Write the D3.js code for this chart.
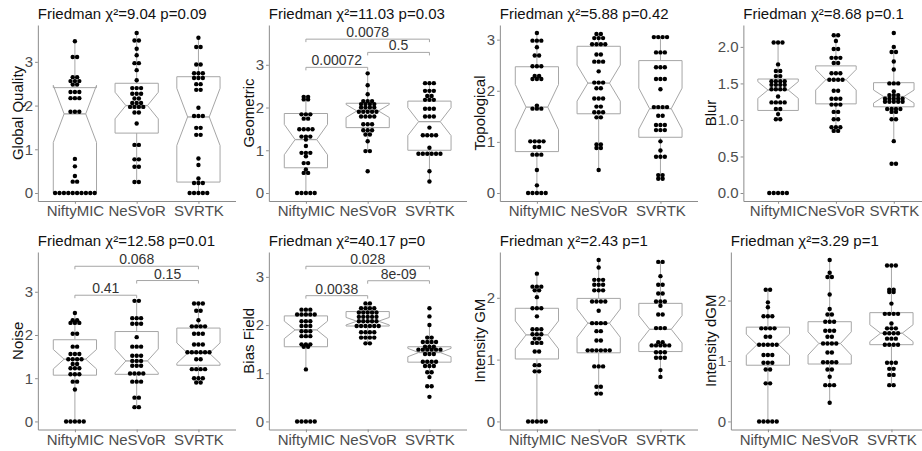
<!DOCTYPE html>
<html>
<head>
<meta charset="utf-8">
<script src="https://cdn.jsdelivr.net/npm/d3@7"></script>
<style>
  body { margin: 0; background: #fff; }
  svg text { font-family: "Liberation Sans", Arial, Helvetica, sans-serif; }
</style>
</head>
<body>
<svg id="chart" width="922" height="451"></svg>
<script>
// Data
var methods = ["NiftyMIC", "NeSVoR", "SVRTK"];
var metrics = ["Global Quality", "Geometric", "Topological", "Blur", "Noise", "Bias Field", "Intensity GM", "Intensity dGM"];
var chiSq = ["9.04", "11.03", "5.88", "8.68", "12.58", "40.17", "2.43", "3.29"];
var pValues = ["0.09", "0.03", "0.42", "0.1", "0.01", "0", "1", "1"];
var yTicks = [[0, 1, 2, 3], [0, 1, 2, 3], [0, 1, 2, 3], [0, 0.5, 1, 1.5, 2], [0, 1, 2, 3], [0, 1, 2, 3], [0, 1, 2], [0, 1, 2]];

// box hinges per method: [q1, median, q3]
var boxGlobal = [[0, 1.81, 2.41], [1.37, 2.0, 2.51], [0.25, 1.74, 2.66]];
var boxGeometric = [[0.59, 1.25, 1.86], [1.53, 1.92, 2.10], [1.0, 1.67, 2.15]];
var boxTopological = [[0.81, 1.68, 2.47], [1.55, 2.15, 2.87], [1.09, 1.65, 2.59]];
var boxBlur = [[1.13, 1.41, 1.56], [1.22, 1.55, 1.74], [1.18, 1.32, 1.51]];
var boxNoise = [[1.07, 1.44, 1.89], [1.09, 1.40, 2.08], [1.30, 1.58, 2.16]];
var boxBias = [[1.55, 1.90, 2.19], [1.98, 2.08, 2.28], [1.23, 1.43, 1.55]];
var boxIntGM = [[1.01, 1.40, 1.83], [1.11, 1.59, 1.99], [1.13, 1.49, 1.91]];
var boxIntDGM = [[0.93, 1.27, 1.56], [0.95, 1.29, 1.65], [1.27, 1.46, 1.80]];

// scores per method as [value, number of subjects]
var dotsGlobal = [
  [[3.47,1],[3.11,2],[2.65,2],[2.56,3],[2.48,2],[2.31,3],[2.17,3],[1.86,3],[0.78,1],[0.61,1],[0.39,1],[0.26,2],[0,10]],
  [[3.66,1],[3.49,2],[3.30,1],[3.15,1],[2.97,2],[2.81,1],[2.58,1],[2.40,3],[2.27,3],[2.16,2],[2.06,3],[1.97,4],[1.84,2],[1.59,1],[1.10,2],[0.77,2],[0.60,2],[0.25,2]],
  [[3.55,1],[3.34,2],[2.94,2],[2.74,3],[2.63,3],[2.49,2],[2.36,2],[1.95,1],[1.76,3],[1.49,2],[1.33,2],[0.79,1],[0.64,1],[0.33,1],[0.23,3],[0,5]]
];
var dotsGeometric = [
  [[2.25,2],[2.19,2],[1.84,3],[1.74,2],[1.49,4],[1.32,3],[1.25,1],[1.10,1],[0.94,3],[0.86,1],[0.70,2],[0.55,1],[0.47,2],[0,5]],
  [[2.80,1],[2.52,1],[2.31,1],[2.15,3],[2.08,4],[2.00,4],[1.90,5],[1.79,4],[1.61,3],[1.47,3],[1.37,2],[1.21,1],[0.98,2],[0.51,1]],
  [[2.57,3],[2.39,3],[2.27,2],[2.18,3],[1.97,3],[1.79,3],[1.53,1],[1.35,4],[1.06,1],[0.92,6],[0.51,1],[0.27,1]]
];
var dotsTopological = [
  [[3.13,1],[2.98,3],[2.85,1],[2.69,2],[2.48,3],[2.29,2],[2.23,3],[1.71,1],[1.65,3],[1.01,4],[0.90,2],[0.75,3],[0.45,1],[0.15,1],[0,5]],
  [[3.11,2],[3.03,3],[2.91,4],[2.71,2],[2.57,3],[2.38,1],[2.16,3],[2.05,2],[1.85,3],[1.69,2],[1.58,3],[1.48,2],[0.95,2],[0.88,2],[0.45,1]],
  [[3.05,4],[2.75,3],[2.46,3],[2.23,3],[2.03,1],[1.68,4],[1.51,2],[1.33,3],[1.23,3],[1.01,1],[0.83,1],[0.71,3],[0.35,2],[0.28,2]]
];
var dotsBlur = [
  [[2.06,3],[1.76,1],[1.67,2],[1.60,2],[1.53,4],[1.48,4],[1.42,4],[1.32,1],[1.24,4],[1.15,2],[1.08,1],[1.01,2],[0,5]],
  [[2.16,2],[2.08,1],[1.97,2],[1.85,3],[1.78,2],[1.64,3],[1.55,4],[1.40,2],[1.29,3],[1.21,3],[1.11,2],[1.01,2],[0.90,3],[0.85,2]],
  [[2.19,1],[2.0,1],[1.93,2],[1.80,1],[1.69,1],[1.50,3],[1.39,1],[1.34,3],[1.29,5],[1.25,5],[1.15,4],[1.11,2],[1.01,2],[0.71,1],[0.40,2]]
];
var dotsNoise = [
  [[2.51,1],[2.34,2],[2.28,3],[2.03,2],[1.73,2],[1.56,3],[1.44,4],[1.33,2],[1.23,3],[1.09,3],[0.92,2],[0.74,1],[0,5]],
  [[2.79,2],[2.39,3],[2.26,3],[1.95,1],[1.73,3],[1.52,3],[1.40,3],[1.29,3],[1.11,4],[0.92,3],[0.55,2],[0.33,2]],
  [[2.73,3],[2.56,2],[2.34,1],[2.20,4],[2.03,3],[1.78,3],[1.60,6],[1.44,2],[1.21,4],[1.0,3],[0.90,2]]
];
var dotsBias = [
  [[2.32,3],[2.22,5],[2.08,3],[1.98,3],[1.87,3],[1.77,3],[1.60,3],[1.55,2],[1.08,1],[0,5]],
  [[2.45,2],[2.35,4],[2.26,5],[2.17,5],[2.08,5],[1.98,6],[1.85,4],[1.74,4],[1.62,2]],
  [[2.35,1],[2.18,1],[2.0,1],[1.74,2],[1.65,4],[1.55,3],[1.49,6],[1.40,3],[1.24,4],[1.15,3],[1.02,2],[0.92,1],[0.73,2],[0.51,1]]
];
var dotsIntGM = [
  [[2.39,1],[2.18,3],[2.12,2],[2.01,1],[1.83,3],[1.70,1],[1.49,3],[1.41,3],[1.34,2],[1.27,3],[1.13,2],[0.91,2],[0.81,2],[0,5]],
  [[2.61,1],[2.49,1],[2.29,3],[2.21,3],[2.12,3],[1.94,4],[1.79,1],[1.59,4],[1.46,2],[1.31,2],[1.15,6],[0.89,3],[0.56,2],[0.45,2]],
  [[2.58,2],[2.35,1],[2.21,2],[2.07,2],[1.94,3],[1.87,1],[1.73,2],[1.51,3],[1.28,2],[1.23,5],[1.12,3],[1.03,3],[0.83,1],[0.72,1]]
];
var dotsIntDGM = [
  [[2.18,2],[1.97,1],[1.89,1],[1.74,3],[1.54,4],[1.40,2],[1.27,5],[1.10,3],[0.97,3],[0.86,2],[0.63,2],[0,5]],
  [[2.67,1],[2.46,1],[2.39,2],[2.10,1],[1.86,1],[1.77,2],[1.65,3],[1.50,3],[1.40,2],[1.29,4],[1.14,2],[0.98,4],[0.86,2],[0.74,1],[0.60,3],[0.31,1]],
  [[2.58,3],[2.18,2],[2.14,2],[1.95,1],[1.78,4],[1.62,1],[1.54,3],[1.46,4],[1.37,3],[1.27,4],[0.97,3],[0.87,2],[0.77,2],[0.60,2]]
];

// pairwise comparisons: [group a, group b, bracket height, p label]
var pairsGeometric = [["NiftyMIC", "NeSVoR", 2.94, "0.00072"], ["NeSVoR", "SVRTK", 3.29, "0.5"], ["NiftyMIC", "SVRTK", 3.60, "0.0078"]];
var pairsNoise = [["NiftyMIC", "NeSVoR", 2.92, "0.41"], ["NeSVoR", "SVRTK", 3.26, "0.15"], ["NiftyMIC", "SVRTK", 3.59, "0.068"]];
var pairsBias = [["NiftyMIC", "NeSVoR", 2.61, "0.0038"], ["NeSVoR", "SVRTK", 2.92, "8e-09"], ["NiftyMIC", "SVRTK", 3.22, "0.028"]];

var boxes = [boxGlobal, boxGeometric, boxTopological, boxBlur, boxNoise, boxBias, boxIntGM, boxIntDGM];
var dots = [dotsGlobal, dotsGeometric, dotsTopological, dotsBlur, dotsNoise, dotsBias, dotsIntGM, dotsIntDGM];
var pairs = [[], pairsGeometric, [], [], pairsNoise, pairsBias, [], []];

// Layout
var svg = d3.select("#chart");
var colX = [0, 231, 462, 693];
var rowY = [[25, 201], [252, 429.5]];
var fontSize = 15;
var axisColor = "#8c8c8c", boxColor = "#a6a6a6", tickText = "#4d4d4d";
var dotR = 2.2, dotStep = 4.4;

function expand(g) {
  var out = [];
  g.forEach(function(d) { for (var k = 0; k < d[1]; k++) out.push(d[0]); });
  return out;
}

function textWidth(str) {
  var t = svg.append("text").attr("font-size", fontSize).text(str);
  var w = t.node().getComputedTextLength();
  t.remove();
  return w;
}

metrics.forEach(function(metric, i) {
  var col = i % 4, row = Math.floor(i / 4);
  var x0 = colX[col], top = rowY[row][0], bottom = rowY[row][1];

  var values = dots[i].map(expand);
  var all = d3.merge(values);
  var lo = d3.min(all), hi = d3.max(all);
  if (pairs[i].length) hi = Math.max(hi, d3.max(pairs[i], function(p) { return p[2]; }) * 1.04);
  var pad = (hi - lo) * 0.05;

  var fmt = yTicks[i].some(function(v) { return v % 1 !== 0; }) ? d3.format(".1f") : d3.format("d");
  var labelW = d3.max(yTicks[i], function(v) { return textWidth(fmt(v)); });
  var left = x0 + 29.5 + labelW, right = x0 + 235.5;

  var y = d3.scaleLinear().domain([lo - pad, hi + pad]).range([bottom, top]);
  var x = d3.scalePoint().domain(methods).range([left, right]).padding(0.6);
  var bw = x.step() * 0.7;

  var g = svg.append("g");

  // axes
  var ya = g.append("g").attr("transform", "translate(" + left + ",0)")
      .call(d3.axisLeft(y).tickValues(yTicks[i]).tickFormat(fmt).tickSize(2.75).tickSizeOuter(0).tickPadding(2));
  var xa = g.append("g").attr("transform", "translate(0," + bottom + ")")
      .call(d3.axisBottom(x).tickSize(2.75).tickSizeOuter(0).tickPadding(2));
  [ya, xa].forEach(function(a) {
    a.select(".domain").attr("stroke", axisColor);
    a.selectAll(".tick line").attr("stroke", axisColor);
    a.selectAll(".tick text").attr("fill", tickText).attr("font-size", fontSize)
      .attr("font-family", "Liberation Sans, Arial, sans-serif");
  });

  // titles
  g.append("text").attr("x", left).attr("y", top - 6.2)
    .attr("font-size", fontSize).attr("fill", "#111")
    .text("Friedman \u03c7\u00b2=" + chiSq[i] + " p=" + pValues[i]);
  g.append("text")
    .attr("transform", "translate(" + (x0 + 17) + "," + ((top + bottom) / 2) + ") rotate(-90)")
    .attr("text-anchor", "middle").attr("dominant-baseline", "central")
    .attr("font-size", fontSize).attr("fill", "#111").text(metric);

  // notched boxes
  methods.forEach(function(m, j) {
    var q1 = boxes[i][j][0], med = boxes[i][j][1], q3 = boxes[i][j][2];
    var v = values[j], n = v.length, iqr = q3 - q1;
    var upper = d3.max(v.filter(function(d) { return d <= q3 + 1.5 * iqr + 1e-9; }));
    var lower = d3.min(v.filter(function(d) { return d >= q1 - 1.5 * iqr - 1e-9; }));
    var nh = 1.58 * iqr / Math.sqrt(n);
    var cx = x(m), xl = cx - bw / 2, xr = cx + bw / 2, ind = bw / 4;

    g.append("line").attr("x1", cx).attr("x2", cx).attr("y1", y(q3)).attr("y2", y(upper))
      .attr("stroke", boxColor).attr("stroke-width", 1);
    g.append("line").attr("x1", cx).attr("x2", cx).attr("y1", y(q1)).attr("y2", y(lower))
      .attr("stroke", boxColor).attr("stroke-width", 1);

    var pts = [[xl, q3], [xl, med + nh], [xl + ind, med], [xl, med - nh], [xl, q1],
               [xr, q1], [xr, med - nh], [xr - ind, med], [xr, med + nh], [xr, q3]];
    g.append("path")
      .attr("d", d3.line().x(function(p) { return p[0]; }).y(function(p) { return y(p[1]); })(pts) + "Z")
      .attr("fill", "#fff").attr("stroke", boxColor).attr("stroke-width", 1);
    g.append("line").attr("x1", xl + ind).attr("x2", xr - ind).attr("y1", y(med)).attr("y2", y(med))
      .attr("stroke", boxColor).attr("stroke-width", 1.3);
  });

  // dots, stacked around the centre line
  methods.forEach(function(m, j) {
    var cx = x(m);
    dots[i][j].forEach(function(d) {
      for (var k = 0; k < d[1]; k++) {
        g.append("circle")
          .attr("cx", cx + (k - (d[1] - 1) / 2) * dotStep)
          .attr("cy", y(d[0]))
          .attr("r", dotR).attr("fill", "#000");
      }
    });
  });

  // pairwise brackets
  pairs[i].forEach(function(p) {
    var xa1 = x(p[0]), xb1 = x(p[1]), yy = y(p[2]);
    g.append("path")
      .attr("d", "M" + xa1 + "," + (yy + 3) + "V" + yy + "H" + xb1 + "V" + (yy + 3))
      .attr("fill", "none").attr("stroke", boxColor).attr("stroke-width", 1);
    g.append("text").attr("x", (xa1 + xb1) / 2).attr("y", yy - 2)
      .attr("text-anchor", "middle").attr("font-size", 14).attr("fill", "#333").text(p[3]);
  });
});
</script>
</body>
</html>
